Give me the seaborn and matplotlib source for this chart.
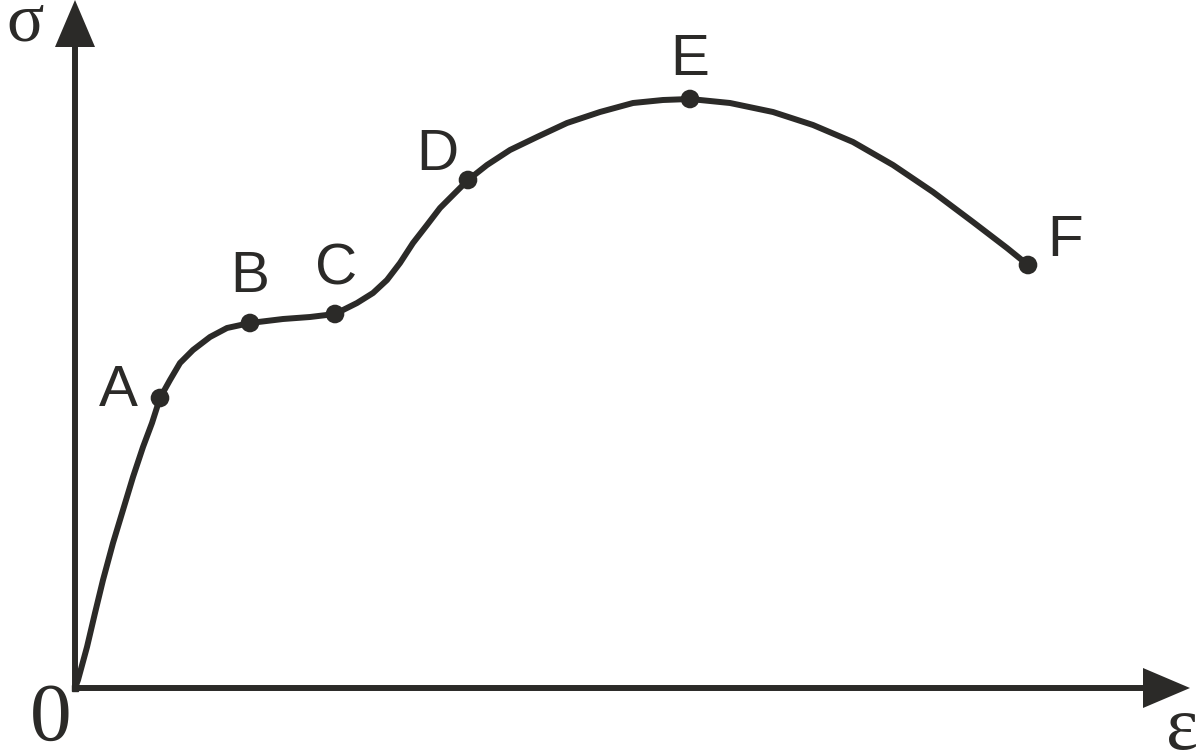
import numpy as np
import pandas as pd
import matplotlib.pyplot as plt
import seaborn as sns

ink = "#2b2a28"

# curve (strain, stress), arbitrary units
strain = [0, 3, 12, 20, 28, 38, 48, 58, 68, 77, 85, 95, 105, 118, 135, 152, 175,
          208, 235, 260, 282, 298, 312, 325, 338, 352, 365, 378, 393,
          412, 435, 462, 492, 525, 558, 588, 615,
          655, 698, 738, 778, 818, 858, 898, 932, 953]
stress = [0, 8, 41, 75, 108, 145, 178, 211, 241, 265, 290, 308, 325, 338, 351, 360, 365,
          369, 371, 374, 385, 395, 408, 425, 445, 463, 480, 493, 508,
          523, 538, 551, 565, 576, 585, 588, 589,
          585, 576, 563, 546, 523, 496, 466, 440, 423]

# marked points
point_labels = ["A", "B", "C", "D", "E", "F"]
point_strain = [85, 175, 260, 393, 615, 953]
point_stress = [290, 365, 374, 508, 589, 423]

sns.set_theme(style="white")
plt.rcParams["font.family"] = ["Liberation Sans", "DejaVu Sans"]

fig = plt.figure(figsize=(12, 7.54), dpi=100)
ax = fig.add_axes([0, 0, 1, 1])
ax.set_xlim(-75, 1125)
ax.set_ylim(-66, 688)
ax.set_axis_off()

# axes with arrow heads
x_end = ax.get_xlim()[1] - 10
y_end = ax.get_ylim()[1]
ax.plot([0, 0], [0, y_end - 40], color=ink, lw=4.3, solid_capstyle="butt", zorder=2)
ax.plot([0, x_end - 40], [0, 0], color=ink, lw=4.3, solid_capstyle="butt", zorder=2)
ax.fill([-20, 20, 0], [y_end - 47, y_end - 47, y_end], color=ink, lw=0, zorder=2)
ax.fill([x_end - 47, x_end - 47, x_end], [-20, 20, 0], color=ink, lw=0, zorder=2)
ax.add_patch(plt.Rectangle((-3, -3), 6, 6, color=ink, zorder=2))

curve = pd.DataFrame({"strain": strain, "stress": stress})
sns.lineplot(data=curve, x="strain", y="stress", sort=False, estimator=None,
             color=ink, lw=4.3, ax=ax, zorder=3)
ax.lines[-1].set_solid_joinstyle("round")
ax.lines[-1].set_solid_capstyle("round")

pts = pd.DataFrame({"strain": point_strain, "stress": point_stress, "label": point_labels})
sns.scatterplot(data=pts, x="strain", y="stress", color=ink, s=180, edgecolor="none",
                ax=ax, zorder=4)

# label offsets in points
offsets = {"A": (-30, 5), "B": (0, 33), "C": (1, 32), "D": (-22, 18), "E": (0, 28), "F": (27, 17)}
for lab, xv, yv in zip(point_labels, point_strain, point_stress):
    ax.annotate(lab, (xv, yv), xytext=offsets[lab], textcoords="offset points",
                ha="center", va="center", fontsize=42, color=ink)

serif = ["Liberation Serif", "DejaVu Serif"]
ax.text(-50, 664, "σ", family=serif, fontsize=50, color=ink, ha="center", va="center")
ax.text(-24, -32, "0", family=serif, fontsize=60, color=ink, ha="center", va="center")
ax.text(1107, -61, "ε", family=serif, fontsize=55, color=ink, ha="center", va="baseline")

fig.savefig("out.png", dpi=100, facecolor="white")
